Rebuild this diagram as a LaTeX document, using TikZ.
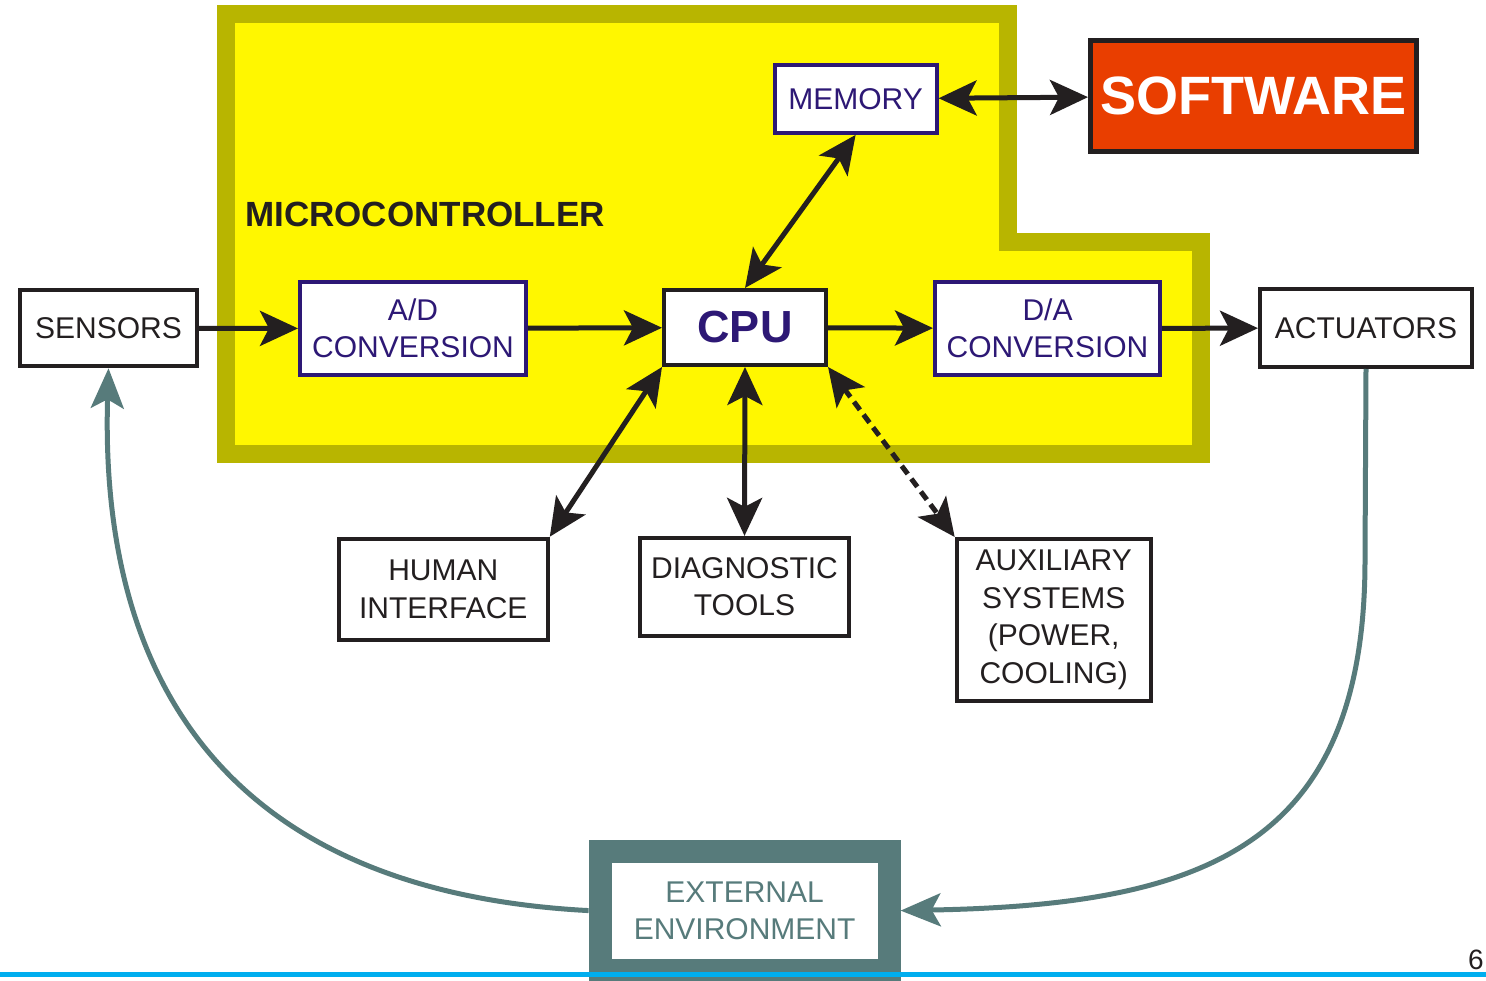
\documentclass[tikz,border=0pt]{standalone}
\usepackage{fontspec}
\setmainfont{Liberation Sans}
\usetikzlibrary{arrows.meta}
\definecolor{dk}{HTML}{231F20}
\definecolor{pur}{HTML}{2D1875}
\definecolor{yel}{HTML}{FFF700}
\definecolor{oliv}{HTML}{B8B500}
\definecolor{soft}{HTML}{E93E00}
\definecolor{envc}{HTML}{577B7B}
\definecolor{bline}{HTML}{00AEEF}
\begin{document}
\begin{tikzpicture}[x=1pt,y=-1pt,
  >={Stealth[length=38pt,width=35pt,inset=9pt]},
  box/.style={draw=dk, line width=4pt, fill=white, inner sep=0pt, align=center,
    text=dk, font=\fontsize{30}{37.5}\selectfont},
  pbox/.style={box, draw=pur, text=pur},
  conn/.style={draw=dk, line width=5pt},
  envarrow/.style={draw=envc, line width=5pt, -{Stealth[length=40pt,width=33pt,inset=9pt]}},
  dashconn/.style={conn, dash pattern=on 10pt off 6pt}
]
\useasboundingbox (0,0) rectangle (1486,981);
\clip (0,0) rectangle (1486,981);
\fill[white] (0,0) rectangle (1486,981);

% microcontroller region
\draw[line width=18pt, draw=oliv, fill=yel, miter limit=10]
  (226,14.5) -- (1007.5,14.5) -- (1007.5,242) -- (1201,242) -- (1201,454) -- (226,454) -- cycle;
\node[anchor=base west, inner sep=0pt, text=dk, font=\fontsize{35}{40}\selectfont\bfseries]
  (mc) at (245,227) {MICROCONTROLLER};

% nodes
\node[box, minimum width=177pt, minimum height=76pt] (sen) at (108.5,328.3) {SENSORS};
\node[pbox, minimum width=226pt, minimum height=93pt] (ad) at (413,328.5) {A/D\\CONVERSION};
\node[box, minimum width=162pt, minimum height=75pt, text=pur,
  font=\fontsize{45}{50}\selectfont\bfseries] (cpu) at (745,327.5) {CPU};
\node[pbox, minimum width=225pt, minimum height=93pt] (da) at (1047.5,328.5) {D/A\\CONVERSION};
\node[box, minimum width=212pt, minimum height=78pt] (act) at (1366,328) {ACTUATORS};
\node[pbox, minimum width=162pt, minimum height=68pt] (mem) at (855.6,98.9) {MEMORY};
\node[box, line width=5pt, fill=soft, text=white, minimum width=326pt, minimum height=111pt,
  font=\fontsize{54}{60}\selectfont\bfseries] (sw) at (1253.5,95.9) {SOFTWARE};
\node[box, minimum width=209pt, minimum height=101pt] (hum) at (443.3,589.2) {HUMAN\\INTERFACE};
\node[box, minimum width=209pt, minimum height=98pt] (diag) at (744.5,586.9) {DIAGNOSTIC\\TOOLS};
\node[box, minimum width=194pt, minimum height=162pt] (aux) at (1053.7,620) {AUXILIARY\\SYSTEMS\\(POWER,\\COOLING)};
\node[box, draw=envc, text=envc, line width=23pt, minimum width=289pt, minimum height=119pt]
  (ext) at (744.6,910.6) {EXTERNAL\\ENVIRONMENT};

% connectors
\draw[conn,->] (sen) -- (ad);
\draw[conn,->] (ad) -- (cpu);
\draw[conn,->] (cpu) -- (da);
\draw[conn,->] (da) -- (act);
\draw[conn,<->] (mem) -- (sw);
\draw[conn,<->] (cpu.north) -- (mem.south);
\draw[conn,<->] (cpu.south west) -- (hum.north east);
\draw[conn,<->] (cpu.south) -- (diag.north);
\draw[dashconn,<->] (cpu.south east) -- (aux.north west);

\coordinate (bend) at (1365,560);
\draw[envarrow] (ext.west) .. controls (200,890) and (100,650) .. (sen.south);
\draw[envarrow] (act.south) -- (bend) .. controls (1365,850) and (1200,905) .. (ext.east);

% footer line and page number
\draw[bline, line width=5.5pt] (0,974.5) -- (1486,974.5);
\node[anchor=base east, inner sep=0pt, text=dk, font=\fontsize{28}{30}\selectfont] (pg) at (1484,969) {6};
\end{tikzpicture}
\end{document}
